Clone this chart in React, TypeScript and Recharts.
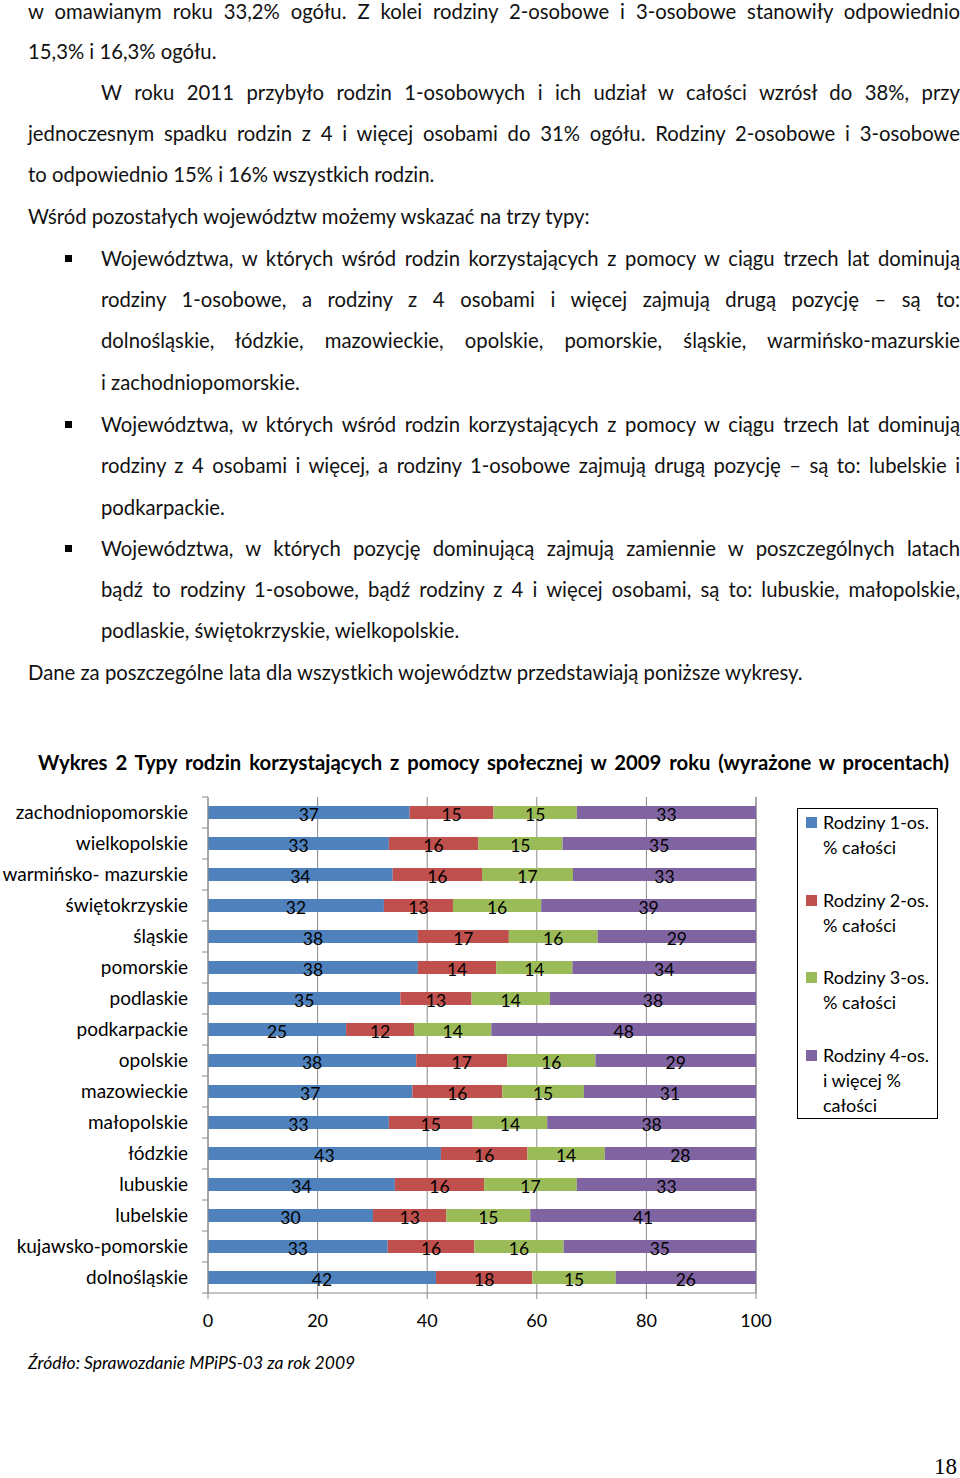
import React from 'react';
import { BarChart, Bar, XAxis, YAxis, CartesianGrid, LabelList, Legend } from 'recharts';

// województwa, alphabetical (drawn bottom -> top)
const regions = [
  'dolnośląskie', 'kujawsko-pomorskie', 'lubelskie', 'lubuskie', 'łódzkie', 'małopolskie',
  'mazowieckie', 'opolskie', 'podkarpackie', 'podlaskie', 'pomorskie', 'śląskie',
  'świętokrzyskie', 'warmińsko- mazurskie', 'wielkopolskie', 'zachodniopomorskie',
];
const onePerson = [41.6, 32.8, 30.1, 34.1, 42.5, 33.0, 37.3, 38.0, 25.2, 35.1, 38.3, 38.3, 32.1, 33.7, 33.0, 36.8];
const twoPerson = [17.6, 15.8, 13.4, 16.3, 15.8, 15.3, 16.4, 16.6, 12.4, 13.0, 14.3, 16.6, 12.6, 16.3, 16.3, 15.3];
const threePerson = [15.2, 16.3, 15.3, 16.9, 14.1, 13.6, 14.9, 16.1, 14.1, 14.3, 13.9, 16.2, 16.1, 16.6, 15.4, 15.2];
const fourPlus = [25.6, 35.1, 41.2, 32.7, 27.6, 38.1, 31.4, 29.3, 48.3, 37.6, 33.5, 28.9, 39.2, 33.4, 35.3, 32.7];

const seriesNames = [
  'Rodziny 1-os.\n% całości',
  'Rodziny 2-os.\n% całości',
  'Rodziny 3-os.\n% całości',
  'Rodziny 4-os.\ni więcej %\ncałości',
];
const xTicks = [0, 20, 40, 60, 80, 100];

const COLORS = ['#4F81BD', '#C0504D', '#9BBB59', '#8064A2'];
const KEYS = ['one', 'two', 'three', 'four'];
const FONT = 'Lato, "Open Sans", sans-serif';
const GRID = '#8a8a8a';

const PLOT_H = 496;
const ROW = PLOT_H / regions.length;

const data = regions.map((name, i) => ({
  name,
  one: onePerson[i],
  two: twoPerson[i],
  three: threePerson[i],
  four: fourPlus[i],
}));

const textLines = [
  { y: 11, x: 28, t: 'w omawianym roku 33,2% ogółu. Z kolei rodziny 2-osobowe i 3-osobowe stanowiły odpowiednio', j: true },
  { y: 52, x: 28, t: '15,3% i 16,3% ogółu.' },
  { y: 93, x: 101, t: 'W roku 2011 przybyło rodzin 1-osobowych i ich udział w całości wzrósł do 38%, przy', j: true },
  { y: 134, x: 28, t: 'jednoczesnym spadku rodzin z 4 i więcej osobami do 31% ogółu. Rodziny 2-osobowe i 3-osobowe', j: true },
  { y: 175, x: 28, t: 'to odpowiednio 15% i 16% wszystkich rodzin.' },
  { y: 217, x: 28, t: 'Wśród pozostałych województw możemy wskazać na trzy typy:' },
  { y: 259, x: 101, t: 'Województwa, w których wśród rodzin korzystających z pomocy w ciągu trzech lat dominują', j: true, b: true },
  { y: 300, x: 101, t: 'rodziny 1-osobowe, a rodziny z 4 osobami i więcej zajmują drugą pozycję – są to:', j: true },
  { y: 341, x: 101, t: 'dolnośląskie, łódzkie, mazowieckie, opolskie, pomorskie, śląskie, warmińsko-mazurskie', j: true },
  { y: 383, x: 101, t: 'i zachodniopomorskie.' },
  { y: 425, x: 101, t: 'Województwa, w których wśród rodzin korzystających z pomocy w ciągu trzech lat dominują', j: true, b: true },
  { y: 466, x: 101, t: 'rodziny z 4 osobami i więcej, a rodziny 1-osobowe zajmują drugą pozycję – są to: lubelskie i', j: true },
  { y: 508, x: 101, t: 'podkarpackie.' },
  { y: 549, x: 101, t: 'Województwa, w których pozycję dominującą zajmują zamiennie w poszczególnych latach', j: true, b: true },
  { y: 590, x: 101, t: 'bądź to rodziny 1-osobowe, bądź rodziny z 4 i więcej osobami, są to: lubuskie, małopolskie,', j: true },
  { y: 631, x: 101, t: 'podlaskie, świętokrzyskie, wielkopolskie.' },
  { y: 673, x: 28, t: 'Dane za poszczególne lata dla wszystkich województw przedstawiają poniższe wykresy.' },
];

const RegionTick = (props: any) => {
  const { x, y, payload, index } = props;
  const axisX = x + 20;
  return (
    <g>
      <line x1={axisX - 6} x2={axisX} y1={y - ROW / 2} y2={y - ROW / 2} stroke={GRID} />
      {index === 0 && <line x1={axisX - 6} x2={axisX} y1={y + ROW / 2} y2={y + ROW / 2} stroke={GRID} />}
      <text x={x} y={y} dy="0.35em" textAnchor="end" fontSize={19} fill="#000" fontFamily={FONT}>
        {payload.value}
      </text>
    </g>
  );
};

const LegendBox = ({ payload }: any) => (
  <div style={{ border: '1px solid #000', width: 139, height: 308, paddingTop: 1, boxSizing: 'content-box', fontFamily: FONT, fontSize: 18, color: '#000', background: '#fff' }}>
    {(payload || []).map((item: any, i: number) => (
      <div key={i} style={{ display: 'flex', marginBottom: 27.5, marginLeft: 8 }}>
        <span style={{ width: 11, height: 11, background: item.color, marginTop: 7, marginRight: 6, flexShrink: 0 }} />
        <span style={{ whiteSpace: 'pre-line', lineHeight: '25px' }}>{item.value}</span>
      </div>
    ))}
  </div>
);

export default function App() {
  return (
    <div style={{ position: 'absolute', left: 0, top: 0, width: 960, height: 1478, background: '#fff', fontFamily: FONT, color: '#111', overflow: 'hidden' }}>
      {textLines.map((l, i) => (
        <React.Fragment key={i}>
          {l.b && <div style={{ position: 'absolute', left: 65, top: l.y - 4, width: 7, height: 7, background: '#000' }} />}
          <div
            style={{
              position: 'absolute',
              top: Math.max(0, l.y - 12),
              left: l.x,
              width: 960 - l.x,
              fontSize: 20.3,
              lineHeight: '22px',
              textAlign: l.j ? 'justify' : 'left',
              textAlignLast: l.j ? 'justify' : 'auto',
            } as React.CSSProperties}
          >
            {l.t}
          </div>
        </React.Fragment>
      ))}

      <div
        style={{
          position: 'absolute', top: 749, left: 38, width: 911, fontSize: 20.3, fontWeight: 700,
          lineHeight: '26px', textAlign: 'justify', textAlignLast: 'justify', color: '#000',
        } as React.CSSProperties}
      >
        Wykres 2 Typy rodzin korzystających z pomocy społecznej w 2009 roku (wyrażone w procentach)
      </div>

      <div style={{ position: 'absolute', top: 787, left: 0 }}>
        <BarChart
          width={960}
          height={551}
          data={data}
          layout="vertical"
          margin={{ top: 10, right: 204, bottom: 0, left: 0 }}
        >
          <CartesianGrid horizontal={false} stroke={GRID} />
          <XAxis
            type="number"
            domain={[0, 100]}
            ticks={xTicks}
            interval={0}
            height={45}
            stroke={GRID}
            tickSize={6}
            tickMargin={15}
            tick={{ fill: '#000', fontSize: 18, fontFamily: FONT }}
          />
          <YAxis
            type="category"
            dataKey="name"
            reversed
            width={208}
            stroke={GRID}
            tickLine={false}
            tickSize={6}
            tickMargin={14}
            interval={0}
            tick={<RegionTick />}
          />
          <Legend
            layout="vertical"
            align="center"
            verticalAlign="middle"
            content={<LegendBox />}
            wrapperStyle={{ position: 'absolute', left: 797, top: 21, width: 141, height: 310 }}
          />
          {KEYS.map((k, i) => (
            <Bar key={k} dataKey={k} name={seriesNames[i]} stackId="a" fill={COLORS[i]} barSize={13} isAnimationActive={false}>
              <LabelList
                dataKey={k}
                position="center"
                formatter={(v: any) => Math.round(Number(v))}
                fill="#000"
                fontSize={17.5}
                fontFamily={FONT}
                dy={2}
              />
            </Bar>
          ))}
        </BarChart>
      </div>

      <div style={{ position: 'absolute', top: 1351, left: 28, fontSize: 17.5, fontStyle: 'italic', lineHeight: '24px', color: '#000' }}>
        Źródło: Sprawozdanie MPiPS-03 za rok 2009
      </div>

      <div style={{ position: 'absolute', top: 1453, right: 3, fontSize: 23, fontFamily: '"Liberation Serif", "DejaVu Serif", serif', color: '#000', lineHeight: '28px' }}>
        18
      </div>
    </div>
  );
}
